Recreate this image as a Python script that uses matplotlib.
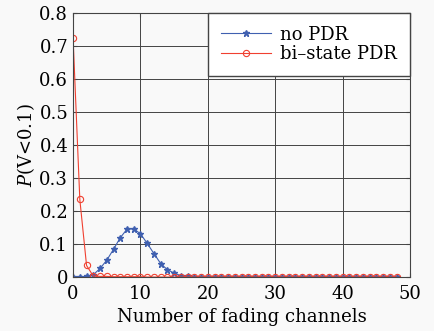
import numpy as np
import matplotlib.pyplot as plt

n = np.arange(49)
no_pdr = [0, 0, 0.002, 0.007, 0.026, 0.051, 0.084, 0.119, 0.145, 0.146,
          0.131, 0.102, 0.071, 0.041, 0.022, 0.012, 0.004, 0.002, 0.001] + [0] * 30
bi_pdr = [0.724, 0.235, 0.035, 0.003, 0.002, 0.002, 0.001, 0.001, 0.001, 0.001,
          0.001] + [0] * 38

plt.rcParams['font.family'] = ['DejaVu Serif']
plt.rcParams['mathtext.fontset'] = 'dejavuserif'

fig = plt.figure(figsize=(4.35, 3.31), dpi=100, facecolor='#f9f9f9')
ax = fig.add_axes([0.168, 0.163, 0.7745, 0.798])
ax.set_facecolor('#f9f9f9')

ax.plot(n, no_pdr, color='#4060b0', marker='*', markersize=4.5, linewidth=0.8,
        label='no PDR')
ax.plot(n, bi_pdr, color='#f04030', marker='o', markersize=4.5, markerfacecolor='none',
        markeredgewidth=0.8, linewidth=0.8, label='bi\u2013state PDR')

ax.set_xlim(0, 50)
ax.set_ylim(0, 0.8)
ax.set_xticks([0, 10, 20, 30, 40, 50])
ax.set_yticks(np.arange(0, 0.81, 0.1))
ax.set_yticklabels(['0', '0.1', '0.2', '0.3', '0.4', '0.5', '0.6', '0.7', '0.8'])
ax.grid(True, color='#444444', linewidth=0.7)
ax.tick_params(direction='in', length=3, labelsize=13, color='#444444',
               top=True, right=True)
ax.tick_params(axis='x', pad=6)
for s in ax.spines.values():
    s.set_color('#444444')
ax.set_xlabel('Number of fading channels', fontsize=13, labelpad=3)
ax.set_ylabel('$P$(V<0.1)', fontsize=13, labelpad=2)
leg = ax.legend(loc='upper right', fontsize=13, frameon=True, fancybox=False,
                handlelength=2.8, borderaxespad=0, labelspacing=0.1,
                borderpad=0.7, handletextpad=0.5)
leg.get_frame().set_edgecolor('#444444')
leg.get_frame().set_facecolor('white')
leg.get_frame().set_alpha(1)

fig.savefig('out.png', dpi=100, facecolor=fig.get_facecolor())
